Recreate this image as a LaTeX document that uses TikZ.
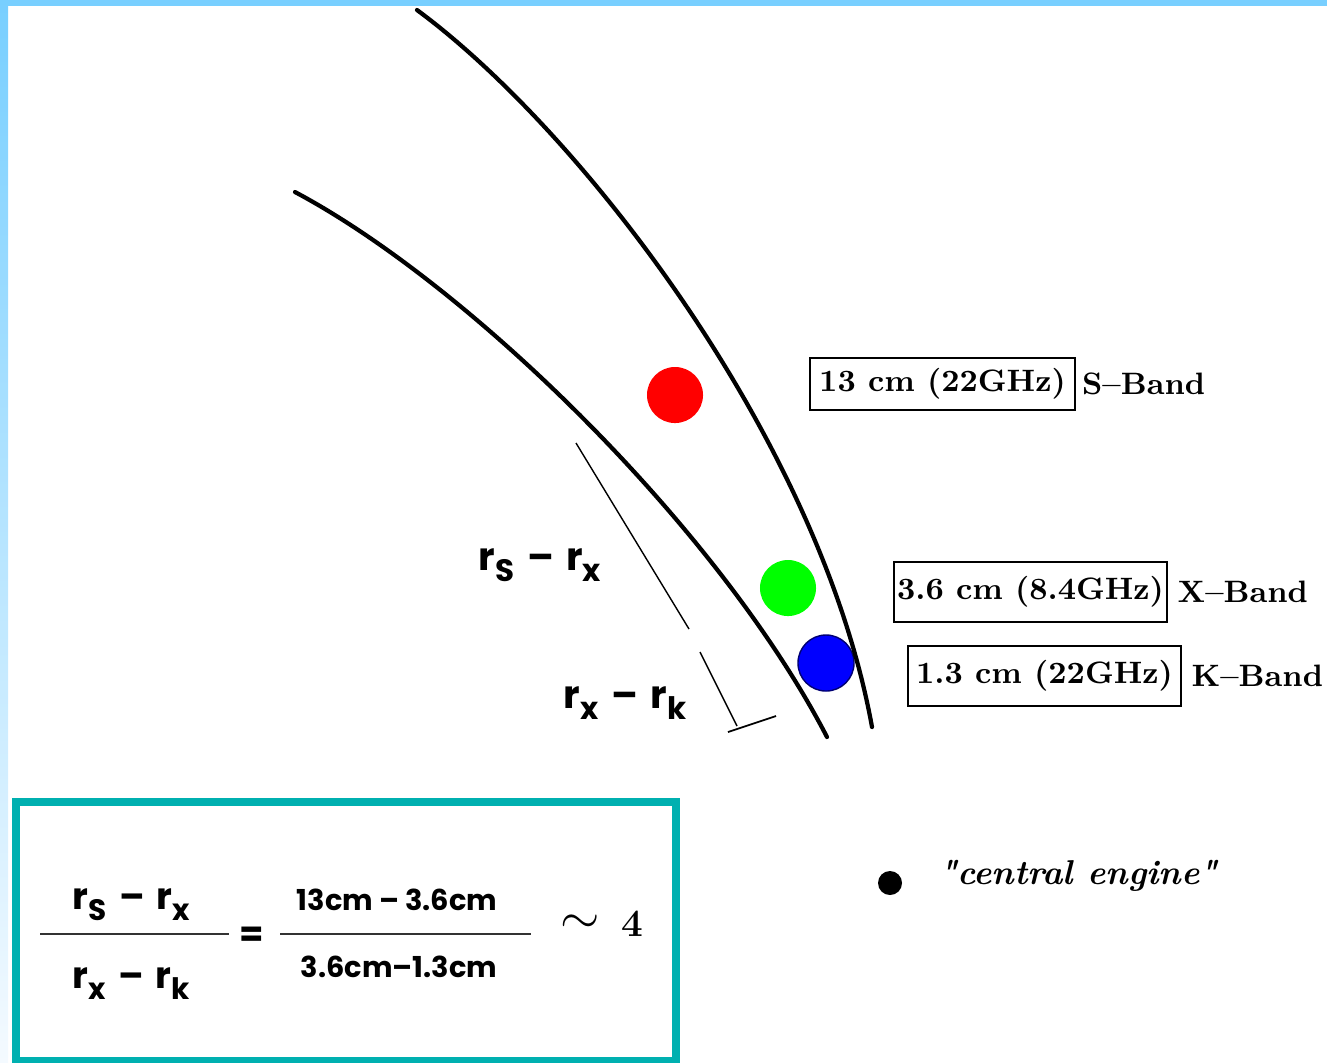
\documentclass[tikz,border=0pt]{standalone}
\usepackage{fontspec}
\newfontfamily\geofont{Poppins}
\newfontfamily\plainquote{lmroman10-bolditalic.otf}[Ligatures=Common]
\usepackage{tikz}
\usetikzlibrary{positioning}
\definecolor{skyedge}{HTML}{78CFFF}
\definecolor{skyfade}{HTML}{F4FAFF}
\definecolor{boxteal}{HTML}{00B0B0}
\newcommand{\rsub}[1]{r\raisebox{-0.3em}{\fontsize{0.8\fontdimen6\font}{1em}\selectfont #1}}
\newcommand{\rdiff}[2]{\rsub{#1}\hspace{0.35em}–\hspace{0.3em}\rsub{#2}}

\begin{document}
\begin{tikzpicture}[x=0.01cm, y=-0.01cm,
      shell/.style={line width=1.2pt, line cap=round},
      blob/.style={circle, inner sep=0pt, minimum size=5.6mm},
      bandbox/.style={draw, line width=0.6pt, inner sep=0pt, minimum width=2.73cm, minimum height=6mm,
                      font=\fontsize{8.8}{11}\selectfont\bfseries},
      bandname/.style={inner sep=1.5pt, font=\fontsize{8.8}{11}\selectfont\bfseries},
      rlabel/.style={inner sep=0pt, anchor=base west, font=\geofont\bfseries\fontsize{11}{13}\selectfont},
      cmlabel/.style={inner sep=0pt, anchor=base, font=\geofont\bfseries\fontsize{8.2}{10}\selectfont},
      bar/.style={line width=0.7pt, black!80},
      node distance=1pt]
    \useasboundingbox (0,0) rectangle (1327,1062);
    \fill[skyedge] (0,0) rectangle (1327,6);
    \shade[top color=skyedge, bottom color=skyfade] (0,0) rectangle (8,1062);

    \node[blob, fill=red] (sdot) at (675,395) {};
    \node[blob, fill=green] (xdot) at (788,588) {};
    \node[blob, fill=blue, draw=blue!45!black, line width=0.4pt] (kdot) at (826,663) {};

    \draw[shell] (417,10) .. controls (580,130) and (820,440) .. (872,727);
    \draw[shell] (295,192) .. controls (470,285) and (720,530) .. (827,737);

    \node[bandbox, minimum width=2.65cm, minimum height=5.2mm] (sbox) at (942.5,384) {13 cm (22GHz)};
    \node[bandname, right=0pt of sbox] (sname) {S–Band};
    \node[bandbox] (xbox) at (1030.5,592) {3.6 cm (8.4GHz)};
    \node[bandname, right=of xbox] (xname) {X–Band};
    \node[bandbox] (kbox) at (1044.5,676) {1.3 cm (22GHz)};
    \node[bandname, right=of kbox] (kname) {K–Band};

    \coordinate (sx1) at (576,443);
    \coordinate (sx2) at (689,629);
    \coordinate (xk1) at (700,652);
    \coordinate (xk2) at (737,726);
    \coordinate (tk1) at (728,732);
    \coordinate (tk2) at (776,716);
    \draw[line width=0.4pt] (sx1) -- (sx2);
    \draw[line width=0.4pt] (xk1) -- (xk2);
    \draw[line width=0.5pt] (tk1) -- (tk2);
    \node[rlabel] (sxlab) at (478,570) {\rdiff{S}{x}};
    \node[rlabel] (xklab) at (563,708) {\rdiff{x}{k}};

    \node[blob, fill=black, minimum size=2.4mm] (core) at (890,883) {};
    \node[right=2.4mm of core, yshift=2pt, font=\plainquote\fontsize{9.8}{11}\selectfont] (corelab)
      {"central engine"};

    \draw[boxteal, line width=2.3pt] (16,802) rectangle (676,1061);
    \node[rlabel, font=\geofont\bfseries\fontsize{10.5}{12}\selectfont] (numr) at (72,909) {\rdiff{S}{x}};
    \node[rlabel, font=\geofont\bfseries\fontsize{10.5}{12}\selectfont] (denr) at (72,988) {\rdiff{x}{k}};
    \draw[bar] (40,934) -- (229,934);
    \node[font=\geofont\bfseries\fontsize{10}{12}\selectfont, inner sep=0pt] (eq) at (252,937) {=};
    \draw[bar] (280,934) -- (531,934);
    \node[cmlabel] (numc) at (397,910) {13cm – 3.6cm};
    \node[cmlabel] (denc) at (399,977) {3.6cm–1.3cm};
    \node[inner sep=0pt, font=\fontsize{14}{14}\selectfont] (approx) at (580,924) {$\sim$};
    \node[inner sep=0pt, font=\fontsize{11}{12}\selectfont] (ratio) at (632,924) {\textbf{4}};
  \end{tikzpicture}
\end{document}
